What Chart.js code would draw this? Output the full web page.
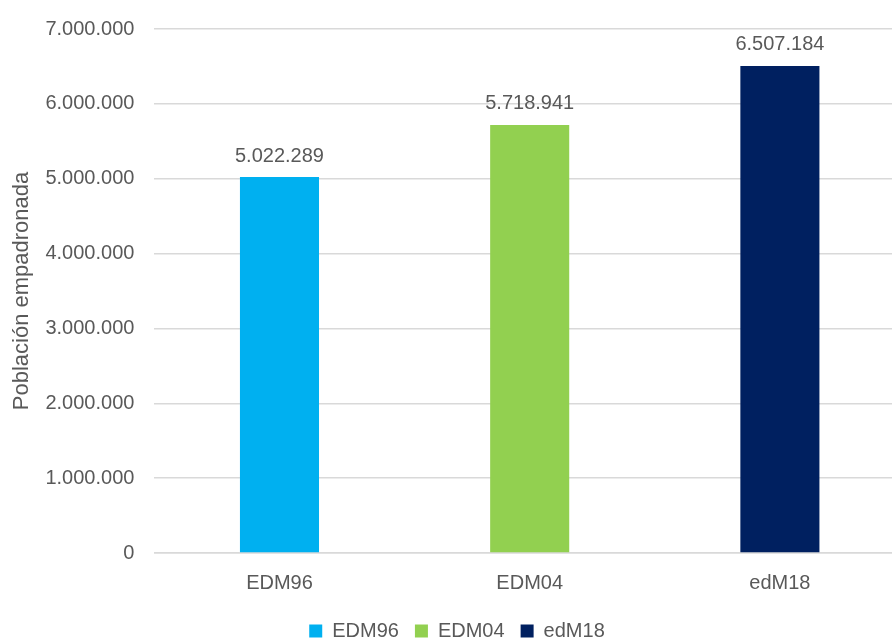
<!DOCTYPE html>
<html>
<head>
<meta charset="utf-8">
<script src="https://cdn.jsdelivr.net/npm/chart.js@4.4.0/dist/chart.umd.min.js"></script>
<style>
  html, body { margin: 0; padding: 0; background: #fff; overflow: hidden; }
  #caja { width: 905px; height: 644px; margin-top: -3px; }
</style>
</head>
<body>
<div id="caja"><canvas id="cvs_poblacion"></canvas></div>
<script>
// datos de la gráfica
const categorias = ["EDM96", "EDM04", "edM18"];
const poblacion = [5022289, 5718941, 6507184];
const colores = ["#00B0F0", "#92D050", "#002060"];
const ticksY = [0, 1000000, 2000000, 3000000, 4000000, 5000000, 6000000, 7000000];

const fuente = "'Liberation Sans', Arial, sans-serif";
const gris = "#595959";
const tam = 20;

function formatoPuntos(n) {
  return String(n).replace(/\B(?=(\d{3})+(?!\d))/g, ".");
}

// etiquetas encima de cada barra
const etiquetasBarras = {
  id: "etiquetasBarras",
  afterDatasetsDraw(chart) {
    const ctx = chart.ctx;
    ctx.save();
    ctx.font = tam + "px " + fuente;
    ctx.fillStyle = gris;
    ctx.textAlign = "center";
    ctx.textBaseline = "bottom";
    chart.data.datasets.forEach((ds, i) => {
      const meta = chart.getDatasetMeta(i);
      meta.data.forEach((barra, j) => {
        if (ds.data[j] == null) return;
        ctx.fillText(formatoPuntos(ds.data[j]), barra.x, barra.y - 11);
      });
    });
    ctx.restore();
  },
};

// un dataset por categoría para que salga la leyenda con los tres colores
const datasets = categorias.map((cat, i) => ({
  label: cat,
  data: categorias.map((c, j) => (j == i ? poblacion[i] : null)),
  backgroundColor: colores[i],
  borderWidth: 0,
  barPercentage: 0.316,
  categoryPercentage: 1,
  skipNull: true,
}));

new Chart(document.getElementById("cvs_poblacion"), {
  type: "bar",
  data: { labels: categorias, datasets: datasets },
  options: {
    responsive: true,
    maintainAspectRatio: false,
    animation: false,
    layout: { padding: { top: 3, left: 9, right: 0, bottom: -10 } },
    plugins: {
      tooltip: { enabled: false },
      legend: {
        position: "bottom",
        labels: {
          font: { family: fuente, size: tam },
          color: gris,
          boxWidth: 13,
          boxHeight: 13,
          padding: 16,
        },
      },
    },
    scales: {
      x: {
        grid: { display: false },
        border: { color: "#D9D9D9", width: 1.5 },
        ticks: { font: { family: fuente, size: tam }, color: gris, padding: 10 },
      },
      y: {
        min: 0,
        max: 7000000,
        afterBuildTicks: (eje) => {
          eje.ticks = ticksY.map((v) => ({ value: v }));
        },
        grid: { color: "#D9D9D9", lineWidth: 1.5, drawTicks: false },
        border: { display: false },
        title: {
          display: true,
          text: "Población empadronada",
          font: { family: fuente, size: 22 },
          color: gris,
          padding: { top: 0, bottom: -10 },
        },
        ticks: {
          font: { family: fuente, size: tam },
          color: gris,
          padding: 20,
          callback: (v) => formatoPuntos(v),
        },
      },
    },
  },
  plugins: [etiquetasBarras],
});
</script>
</body>
</html>
